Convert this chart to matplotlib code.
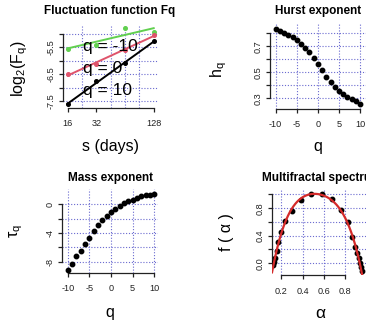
import numpy as np
import matplotlib
matplotlib.use('Agg')
import matplotlib.pyplot as plt

plt.rcParams['font.family'] = ['Liberation Sans', 'DejaVu Sans']
plt.rcParams['mathtext.fontset'] = 'custom'
plt.rcParams['mathtext.rm'] = 'Liberation Sans'

W, H = 366, 327

# fluctuation function, log2(Fq) at each scale
s_days = [16, 32, 64, 128]
fq_qneg10 = [-5.55, -5.40, -4.77, -4.92]
fq_q0 = [-6.50, -6.11, -5.61, -5.03]
fq_q10 = [-7.62, -6.77, -6.10, -5.27]
fq_labels = ['q = -10', 'q = 0', 'q = 10']
s_ticks = [16, 32, 128]
fq_yticks = [-7.5, -7.0, -6.5, -6.0, -5.5, -5.0]
fq_yticklabels = ['-7.5', '', '-6.5', '', '-5.5', '']

# generalized hurst exponent and mass exponent
q = list(range(-10, 11))
hq = [0.831, 0.818, 0.802, 0.787, 0.772, 0.748, 0.720, 0.689, 0.656, 0.612,
      0.562, 0.515, 0.464, 0.423, 0.387, 0.358, 0.335, 0.312, 0.292, 0.277, 0.258]
tau = [-9.11, -8.32, -7.25, -6.46, -5.53, -4.70, -3.67, -2.93, -2.23, -1.68,
       -1.12, -0.61, -0.19, 0.18, 0.46, 0.65, 0.88, 1.11, 1.25, 1.34, 1.44]
q_ticks = [-10, -5, 0, 5, 10]
hq_yticks = [0.3, 0.4, 0.5, 0.6, 0.7, 0.8]
hq_yticklabels = ['0.3', '', '0.5', '', '0.7', '']
tau_yticks = [-8, -6, -4, -2, 0]
tau_yticklabels = ['-8', '', '-4', '', '0']

# multifractal spectrum
alpha = [0.125, 0.134, 0.142, 0.156, 0.172, 0.193, 0.234, 0.297, 0.381, 0.475, 0.585,
         0.672, 0.756, 0.822, 0.866, 0.896, 0.912, 0.925, 0.935, 0.945, 0.955]
f_alpha = [-0.03, 0.02, 0.08, 0.18, 0.31, 0.45, 0.61, 0.76, 0.92, 1.0, 1.0,
           0.94, 0.77, 0.60, 0.38, 0.24, 0.15, 0.07, 0.0, -0.06, -0.11]
alpha_ticks = [0.2, 0.4, 0.6, 0.8]
f_yticks = [0.0, 0.2, 0.4, 0.6, 0.8, 1.0]
f_yticklabels = ['0.0', '', '0.4', '', '0.8', '']

GRID = '#6a6ad0'
GREEN = '#61D04F'
RED = '#DF536B'


def add_axes(fig, left, right, top, bottom):
    return fig.add_axes([left / W, 1 - bottom / H, (right - left) / W, (bottom - top) / H])


def r_style(ax, xb, yb):
    for side in ['top', 'right']:
        ax.spines[side].set_visible(False)
    ax.spines['left'].set_bounds(*yb)
    ax.spines['bottom'].set_bounds(*xb)
    for side in ['left', 'bottom']:
        ax.spines[side].set_color('#222222')
        ax.spines[side].set_linewidth(0.9)
    ax.tick_params(axis='both', direction='out', length=3.2, width=0.9, color='#222222',
                   labelsize=6.6, labelcolor='#222222')
    ax.tick_params(axis='x', pad=5)
    ax.tick_params(axis='y', pad=2)
    for lab in ax.get_yticklabels():
        lab.set_rotation(90)
        lab.set_va('center')
    ax.set_axisbelow(True)


def fig_text(fig, x, y, s, **kw):
    fig.text(x / W, 1 - y / H, s, ha='center', va='center', **kw)


fig = plt.figure(figsize=(W / 100, H / 100), dpi=100)
fig.patch.set_facecolor('white')

# panel 1: fluctuation function
ax1 = add_axes(fig, 62.5, 158, 25, 108)
ax1.set_xscale('log', base=2)
ax1.set_xlim(2 ** 3.82, 2 ** 7.15)
ax1.set_ylim(-7.761, -4.664)
ax1.xaxis.set_minor_locator(matplotlib.ticker.FixedLocator(2 ** np.arange(4, 7.01, 0.5)))
ax1.xaxis.set_minor_formatter(matplotlib.ticker.NullFormatter())
ax1.tick_params(axis='x', which='minor', length=0)
ax1.set_xticks(s_ticks)
ax1.set_xticklabels([str(v) for v in s_ticks])
ax1.set_yticks(fq_yticks)
ax1.set_yticklabels(fq_yticklabels)
ax1.grid(True, which='minor', axis='x', color=GRID, lw=0.8, ls=(0, (1, 1.6)))
ax1.grid(True, which='major', axis='y', color=GRID, lw=0.8, ls=(0, (1, 1.6)))
ax1.grid(False, which='major', axis='x')
xs = np.log2(s_days)
for vals, col in [(fq_qneg10, GREEN), (fq_q0, RED), (fq_q10, 'black')]:
    ax1.plot(s_days, vals, 'o', color=col, ms=2.6, zorder=3)
    b, a = np.polyfit(xs, vals, 1)
    ax1.plot([s_days[0], s_days[-1]], [a + b * xs[0], a + b * xs[-1]], color=col, lw=1.4, zorder=3)
for lab, yv in zip(fq_labels, [-5.45, -6.29, -7.10]):
    ax1.text(23.3, yv, lab, fontsize=12.5, ha='left', va='center', zorder=4)
r_style(ax1, (16, 128), (-7.5, -5.0))
fig_text(fig, 110, 11, 'Fluctuation function Fq', fontsize=8.5, fontweight='bold')
fig_text(fig, 111, 147, 's (days)', fontsize=11.5)
fig_text(fig, 20, 69, r'$\mathrm{log_2(F_q)}$', fontsize=11.5, rotation=90)

# panel 2: hurst exponent
ax2 = add_axes(fig, 270, 366, 24, 109)
ax2.set_xlim(-11.35, 11.42)
ax2.set_ylim(0.2177, 0.8715)
ax2.set_xticks(q_ticks)
ax2.set_xticklabels([str(v) for v in q_ticks])
ax2.set_yticks(hq_yticks)
ax2.set_yticklabels(hq_yticklabels)
ax2.grid(True, color=GRID, lw=0.8, ls=(0, (1, 1.6)))
ax2.plot(q, hq, 'o', color='black', ms=3.2, zorder=3)
r_style(ax2, (-10, 10), (0.3, 0.8))
fig_text(fig, 318, 11, 'Hurst exponent', fontsize=8.5, fontweight='bold')
fig_text(fig, 318, 147, 'q', fontsize=11.5)
fig_text(fig, 219, 70, r'$\mathrm{h_q}$', fontsize=11.5, rotation=90)

# panel 3: mass exponent
ax3 = add_axes(fig, 61.7, 158, 189, 273)
ax3.set_xlim(-11.39, 10.85)
ax3.set_ylim(-9.575, 2.13)
ax3.set_xticks(q_ticks)
ax3.set_xticklabels([str(v) for v in q_ticks])
ax3.set_yticks(tau_yticks)
ax3.set_yticklabels(tau_yticklabels)
ax3.grid(True, color=GRID, lw=0.8, ls=(0, (1, 1.6)))
ax3.plot(q, tau, 'o', color='black', ms=3.2, zorder=3)
r_style(ax3, (-10, 10), (-8, 0))
fig_text(fig, 110, 178, 'Mass exponent', fontsize=8.5, fontweight='bold')
fig_text(fig, 110, 312, 'q', fontsize=11.5)
fig_text(fig, 16, 231, r'τ$_\mathrm{q}$', fontsize=11.5, rotation=90)

# panel 4: multifractal spectrum
ax4 = add_axes(fig, 271.7, 372, 189, 275.3)
ax4.set_xlim(0.109, 1.051)
ax4.set_ylim(-0.176, 1.08)
ax4.set_xticks(alpha_ticks)
ax4.set_xticklabels([f'{v:.1f}' for v in alpha_ticks])
ax4.set_yticks(f_yticks)
ax4.set_yticklabels(f_yticklabels)
ax4.grid(True, color=GRID, lw=0.8, ls=(0, (1, 1.6)))
ax4.axvline(1.0, color=GRID, lw=0.8, ls=(0, (1, 1.6)), zorder=0)
ax4.plot(alpha, f_alpha, 'o', color='black', ms=3.2, zorder=3)
coef = np.polyfit(alpha, f_alpha, 4)
ag = np.linspace(0.112, 0.965, 200)
ax4.plot(ag, np.polyval(coef, ag), color='#D42A2A', lw=1.6, zorder=4)
r_style(ax4, (0.2, 0.8), (0.0, 1.0))
fig_text(fig, 322, 178, 'Multifractal spectrum', fontsize=8.5, fontweight='bold')
fig_text(fig, 320, 313, 'α', fontsize=12.5)
fig_text(fig, 226, 232, 'f ( α )', fontsize=11.5, rotation=90)

fig.savefig('out.png', dpi=100)
